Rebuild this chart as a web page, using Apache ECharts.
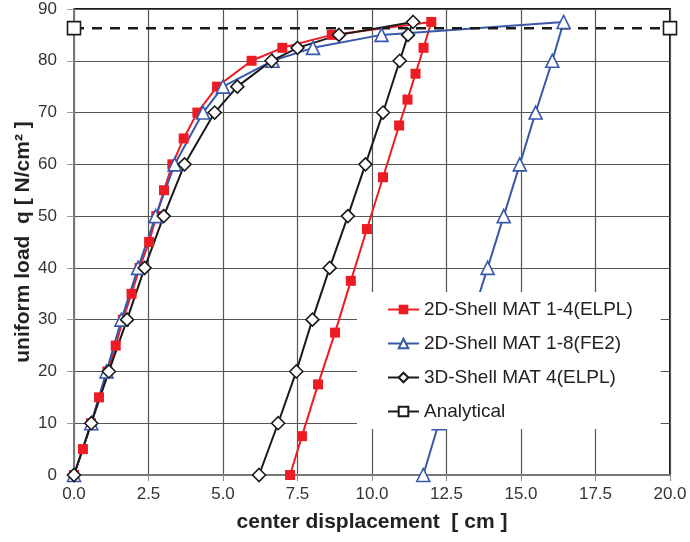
<!DOCTYPE html>
<html>
<head>
<meta charset="utf-8">
<script src="https://cdn.jsdelivr.net/npm/echarts@6/dist/echarts.min.js"></script>
<style>html,body{margin:0;padding:0;background:#fff}#c{width:690px;height:542px}</style>
</head>
<body>
<div id="c"></div>
<script>
// ---- data ----
var xTicks = [0, 2.5, 5, 7.5, 10, 12.5, 15, 17.5, 20];
var yTicks = [0, 10, 20, 30, 40, 50, 60, 70, 80, 90];

var seriesNames = ['2D-Shell MAT 1-4(ELPL)', '2D-Shell MAT 1-8(FE2)', '3D-Shell MAT 4(ELPL)', 'Analytical'];

var redX = [0, 0.3, 0.57, 0.84, 1.12, 1.4, 1.64, 1.93, 2.2, 2.52, 2.76, 3.02, 3.3, 3.68, 4.14, 4.8, 5.96, 6.99, 8.65, 11.99,
            11.73, 11.46, 11.19, 10.91, 10.37, 9.83, 9.29, 8.76, 8.19, 7.65, 7.25];
var redY = [0, 5, 10, 15, 20, 25, 30, 35, 40, 45, 50, 55, 60, 65, 70, 75, 80, 82.5, 85, 87.5,
            82.5, 77.5, 72.5, 67.5, 57.5, 47.5, 37.5, 27.5, 17.5, 7.5, 0];

var blueX = [0, 0.58, 1.09, 1.59, 2.15, 2.74, 3.38, 4.33, 5.0, 6.66, 8.02, 10.32, 16.43,
             16.05, 15.49, 14.96, 14.42, 13.88, 13.33, 12.78, 12.24, 11.72];
var blueY = [0, 10, 20, 30, 40, 50, 60, 70, 75, 80, 82.5, 85, 87.5,
             80, 70, 60, 50, 40, 30, 20, 10, 0];

var blackX = [0, 0.58, 1.17, 1.78, 2.37, 3.01, 3.71, 4.72, 5.48, 6.63, 7.5, 8.89, 11.38,
              11.21, 10.93, 10.37, 9.78, 9.19, 8.58, 8.0, 7.46, 6.85, 6.21];
var blackY = [0, 10, 20, 30, 40, 50, 60, 70, 75, 80, 82.5, 85, 87.5,
              85, 80, 70, 60, 50, 40, 30, 20, 10, 0];

var analyticX = [0, 20];
var analyticY = [86.3, 86.3];

function zip(xs, ys) { return xs.map(function (x, i) { return [x, ys[i]]; }); }

var FONT = "'Liberation Sans', Arial, sans-serif";
var RED = '#ed1c24', BLUE = '#3a58aa', BLACK = '#1a1a1a';

var chart = echarts.init(document.getElementById('c'), null, { renderer: 'canvas' });
chart.setOption({
  animation: false,
  backgroundColor: '#fff',
  grid: { left: 74, right: 20, top: 9, bottom: 67, outerBoundsMode: 'none', show: true, borderColor: '#1a1a1a', borderWidth: 2, backgroundColor: 'transparent' },
  xAxis: {
    type: 'value', min: xTicks[0], max: xTicks[xTicks.length - 1], interval: 2.5,
    name: 'center displacement  [ cm ]', nameLocation: 'middle', nameGap: 37,
    nameTextStyle: { fontFamily: FONT, fontSize: 21, fontWeight: 'bold', color: '#222' },
    axisLine: { show: true, lineStyle: { color: '#777', width: 2 } },
    axisTick: { show: true, length: 6, lineStyle: { color: '#888' } },
    axisLabel: { fontFamily: FONT, fontSize: 17, color: '#333', margin: 11, formatter: function (v) { return v.toFixed(1); } },
    splitLine: { show: true, lineStyle: { color: '#555', width: 1.2 } }
  },
  yAxis: {
    type: 'value', min: yTicks[0], max: yTicks[yTicks.length - 1], interval: 10,
    name: 'uniform load  q [ N/cm\u00b2 ]', nameLocation: 'middle', nameGap: 40,
    nameMoveOverlap: false,
    nameTextStyle: { fontFamily: FONT, fontSize: 21, fontWeight: 'bold', color: '#222' },
    axisLine: { show: true, lineStyle: { color: '#777', width: 2 } },
    axisTick: { show: true, length: 7, lineStyle: { color: '#999' } },
    axisLabel: { fontFamily: FONT, fontSize: 17, color: '#333', margin: 17 },
    splitLine: { show: true, lineStyle: { color: '#555', width: 1.2 } }
  },
  legend: {
    orient: 'vertical', left: 357, top: 292,
    backgroundColor: '#fff', padding: [8, 28, 8, 30],
    itemWidth: 31, itemHeight: 12, itemGap: 15,
    textStyle: { fontFamily: FONT, fontSize: 19, color: '#222' },
    data: [
      { name: seriesNames[0] },
      { name: seriesNames[1] },
      { name: seriesNames[2] },
      { name: seriesNames[3], lineStyle: { type: 'solid' } }
    ],
    z: 10
  },
  series: [
    {
      name: seriesNames[0], type: 'line', data: zip(redX, redY), clip: false,
      symbol: 'rect', symbolSize: 10,
      lineStyle: { color: RED, width: 2 },
      itemStyle: { color: RED, borderColor: RED, borderWidth: 0 }
    },
    {
      name: seriesNames[1], type: 'line', data: zip(blueX, blueY), clip: false,
      symbol: 'triangle', symbolSize: 13,
      lineStyle: { color: BLUE, width: 2 },
      itemStyle: { color: '#fff', borderColor: BLUE, borderWidth: 1.6 }
    },
    {
      name: seriesNames[2], type: 'line', data: zip(blackX, blackY), clip: false,
      symbol: 'diamond', symbolSize: 13,
      lineStyle: { color: BLACK, width: 2 },
      itemStyle: { color: '#fff', borderColor: BLACK, borderWidth: 1.6 }
    },
    {
      name: seriesNames[3], type: 'line', data: zip(analyticX, analyticY), clip: false,
      symbol: 'rect', symbolSize: 13,
      lineStyle: { color: BLACK, width: 2.5, type: [10, 8] },
      itemStyle: { color: '#fff', borderColor: BLACK, borderWidth: 1.6 }
    }
  ]
});
</script>
</body>
</html>
